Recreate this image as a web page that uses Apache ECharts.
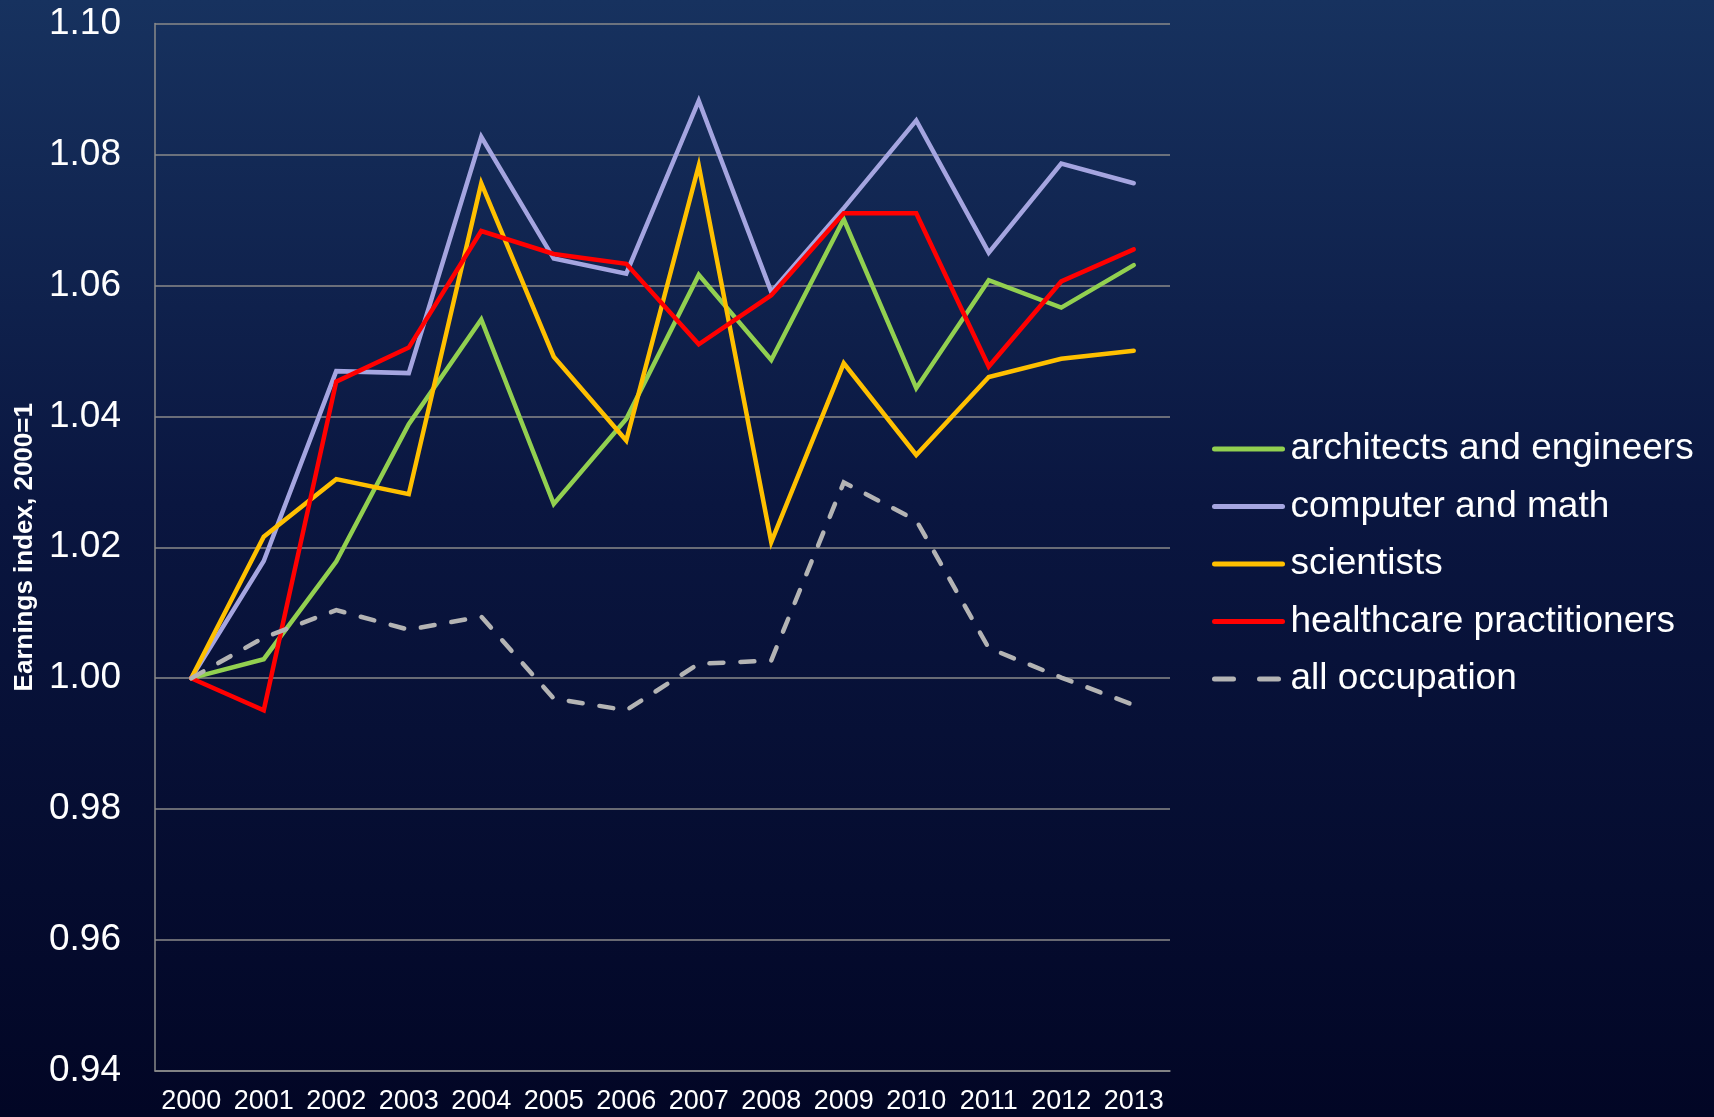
<!DOCTYPE html>
<html>
<head>
<meta charset="utf-8">
<script src="https://cdn.jsdelivr.net/npm/echarts@6/dist/echarts.min.js"></script>
<style>
html,body{margin:0;padding:0;width:1714px;height:1117px;overflow:hidden;}
#main{width:1714px;height:1117px;}
</style>
</head>
<body>
<div id="main"></div>
<script>
var years = ['2000','2001','2002','2003','2004','2005','2006','2007','2008','2009','2010','2011','2012','2013'];
var architects = [1.000,1.0029,1.0178,1.0388,1.0548,1.0266,1.0396,1.0616,1.0486,1.0701,1.0443,1.0608,1.0566,1.0631];
var computerMath = [1.000,1.0179,1.0469,1.0466,1.0827,1.0641,1.0618,1.0882,1.0590,1.0718,1.0852,1.0650,1.0786,1.0756];
var scientists = [1.000,1.0216,1.0304,1.0281,1.0756,1.0491,1.0363,1.0783,1.0208,1.0481,1.0341,1.0460,1.0488,1.0500];
var healthcare = [1.000,0.9951,1.0453,1.0505,1.0683,1.0648,1.0633,1.0510,1.0585,1.0710,1.0710,1.0476,1.0606,1.0655];
var allOcc = [1.000,1.0062,1.0104,1.0074,1.0094,0.9969,0.9951,1.0022,1.0027,1.0299,1.0241,1.0046,1.0001,0.9959];
var seriesNames = ['architects and engineers','computer and math','scientists','healthcare practitioners','all occupation'];

var chart = echarts.init(document.getElementById('main'));
function lineSeries(name, data, color, dashed) {
  return {
    name: name, type: 'line', data: data, symbol: 'none', showSymbol: false,
    lineStyle: { color: color, width: 4.5, type: dashed ? [14, 17] : 'solid', cap: 'round', join: 'miter' },
    itemStyle: { color: color },
    emphasis: { disabled: true },
    animation: false
  };
}
chart.setOption({
  backgroundColor: {
    type: 'linear', x: 0, y: 0, x2: 0, y2: 1,
    colorStops: [
      { offset: 0, color: '#17325f' },
      { offset: 0.45, color: '#0a1640' },
      { offset: 1, color: '#020625' }
    ]
  },
  animation: false,
  grid: { left: 155, right: 544, top: 23.5, bottom: 46, containLabel: false },
  legend: {
    orient: 'vertical', left: 1207, top: 424,
    itemWidth: 68, itemHeight: 6, itemGap: 17.5,
    itemStyle: { opacity: 0 },
    lineStyle: { width: 5, cap: 'round' },
    textStyle: { color: '#ffffff', fontSize: 37, fontFamily: 'Liberation Sans, Arial, sans-serif', lineHeight: 40, padding: [0, 0, 0, 3] },
    data: [
      seriesNames[0], seriesNames[1], seriesNames[2], seriesNames[3],
      { name: seriesNames[4], lineStyle: { type: [19, 26], width: 5, cap: 'round' } }
    ]
  },
  xAxis: {
    type: 'category', data: years, boundaryGap: true,
    axisLine: { lineStyle: { color: '#8a8a8a', width: 1.5 } },
    axisTick: { show: false },
    axisLabel: { color: '#ffffff', fontSize: 27, fontFamily: 'Liberation Sans, Arial, sans-serif', margin: 17, interval: 0 }
  },
  yAxis: {
    type: 'value', min: 0.94, max: 1.10, interval: 0.02,
    name: 'Earnings index, 2000=1', nameLocation: 'middle', nameGap: 104, nameRotate: 90,
    nameTextStyle: { color: '#ffffff', fontSize: 26, fontWeight: 'bold', fontFamily: 'Liberation Sans, Arial, sans-serif' },
    axisLine: { show: true, lineStyle: { color: '#8a8a8a', width: 1.5 } },
    axisTick: { show: false },
    splitLine: { lineStyle: { color: '#8a8a8a', width: 1.5 } },
    axisLabel: { color: '#ffffff', fontSize: 37, fontFamily: 'Liberation Sans, Arial, sans-serif', margin: 34,
      formatter: function (v) { return v.toFixed(2); } }
  },
  series: [
    lineSeries(seriesNames[0], architects, '#92d050', false),
    lineSeries(seriesNames[1], computerMath, '#a5a5e0', false),
    lineSeries(seriesNames[2], scientists, '#ffc000', false),
    lineSeries(seriesNames[3], healthcare, '#ff0000', false),
    lineSeries(seriesNames[4], allOcc, '#b4b4b4', true)
  ]
});
</script>
</body>
</html>
